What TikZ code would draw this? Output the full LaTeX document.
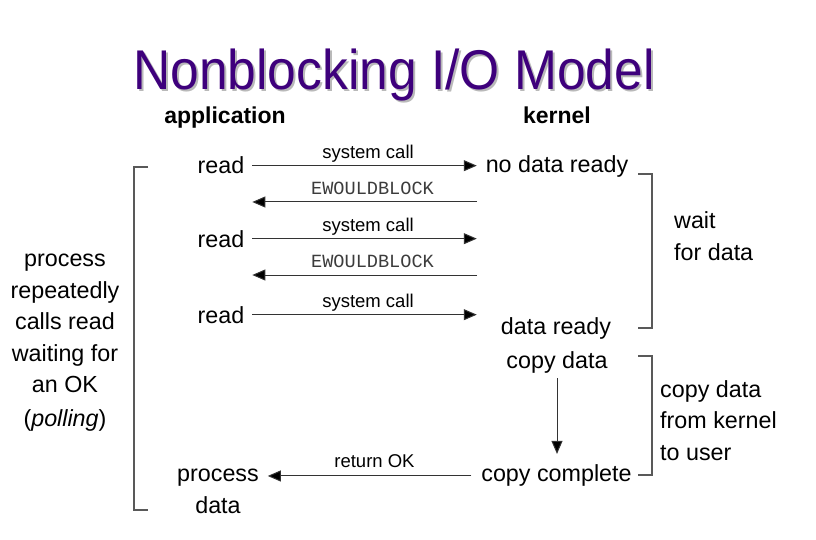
\documentclass[tikz,border=0pt]{standalone}
\usepackage{fontspec}
\setmainfont{Liberation Sans}
\newfontfamily\codefont{Liberation Mono}
\usetikzlibrary{arrows.meta}
\definecolor{titlepurple}{RGB}{62,0,124}
\definecolor{titleshadow}{RGB}{185,185,185}
\definecolor{codegray}{RGB}{60,60,60}
\begin{document}
\begin{tikzpicture}[x=1pt,y=-1pt,
  txt/.style={inner sep=0pt, anchor=base, font=\fontsize{23.3}{27}\selectfont},
  head/.style={txt, font=\bfseries\fontsize{23}{27}\selectfont},
  lbl/.style={inner sep=0pt, anchor=base, font=\fontsize{18.5}{22}\selectfont},
  code/.style={inner sep=0pt, anchor=base, text=codegray, font=\codefont\fontsize{18.6}{22}\selectfont},
  ttl/.style={inner sep=0pt, anchor=base, xscale=0.92, font=\fontsize{56}{60}\selectfont},
  msg/.style={draw=black!80, line width=1pt, -{Triangle[length=13pt,width=11pt,fill=black]}},
  brk/.style={draw=black!65, line width=1.2pt},
]
\useasboundingbox (0,0) rectangle (816,540);

% title with drop shadow
\node[ttl, text=titleshadow] (titleshadow) at (396,92) {Nonblocking I/O Model};
\node[ttl, text=titlepurple] (title) at (394,90) {Nonblocking I/O Model};

% column headings
\node[head] (app) at (225,124) {application};
\node[head] (kern) at (557,124) {kernel};

% application side
\node[txt, outer xsep=8pt] (r1) at (221,174) {read};
\node[txt, outer xsep=8pt] (r2) at (221,247) {read};
\node[txt, outer xsep=8pt] (r3) at (221,323) {read};
\node[txt, outer xsep=9pt] (pd) at (218,481) {process};
\node[txt] (pd2) at (218,513) {data};

% kernel side
\node[txt, outer xsep=9pt] (nd) at (557,173) {no data ready};
\node[txt] (dr) at (556,334) {data ready};
\node[txt] (cd) at (557,368) {copy data};
\node[txt, outer xsep=10pt] (cc) at (556.5,481) {copy complete};
\coordinate (e1) at (477,202);
\coordinate (e2) at (477,275);

% system calls and replies
\draw[msg] (r1.east) -- (r1.east -| nd.west);
\node[lbl] (sc1) at (368,159) {system call};
\draw[msg] (e1) -- (e1 -| r1.east);
\node[code] (ew1) at (372.5,195) {EWOULDBLOCK};
\draw[msg] (r2.east) -- (r2.east -| nd.west);
\node[lbl] (sc2) at (368,231) {system call};
\draw[msg] (e2) -- (e2 -| r2.east);
\node[code] (ew2) at (372.5,267) {EWOULDBLOCK};
\draw[msg] (r3.east) -- (r3.east -| nd.west);
\node[lbl] (sc3) at (368,307) {system call};

% copy and return
\draw[msg, shorten <=5pt, shorten >=10pt] (cd.south) -- (cc.north -| cd.south);
\draw[msg] ([yshift=-1pt]cc.west) -- ([yshift=-1pt]cc.west -| pd.east);
\node[lbl] (ok) at (374.5,467) {return OK};

% left bracket and caption
\draw[brk] (148,167) -- (134,167) -- (134,510) -- (148,510);
\node[txt] (p1) at (65,266) {process};
\node[txt] (p2) at (65,298) {repeatedly};
\node[txt] (p3) at (65,329.5) {calls read};
\node[txt] (p4) at (65,361) {waiting for};
\node[txt] (p5) at (65,392.5) {an OK};
\node[txt] (p6) at (65,426) {(\textit{polling})};

% right brackets and captions
\draw[brk] (638,174) -- (652,174) -- (652,328) -- (638,328);
\node[txt, anchor=base west] (w1) at (674,229) {wait};
\node[txt, anchor=base west] (w2) at (674,260) {for data};
\draw[brk] (638,356) -- (652,356) -- (652,475) -- (638,475);
\node[txt, anchor=base west] (c1) at (660,397) {copy data};
\node[txt, anchor=base west] (c2) at (660,428.5) {from kernel};
\node[txt, anchor=base west] (c3) at (660,460) {to user};
\end{tikzpicture}
\end{document}
